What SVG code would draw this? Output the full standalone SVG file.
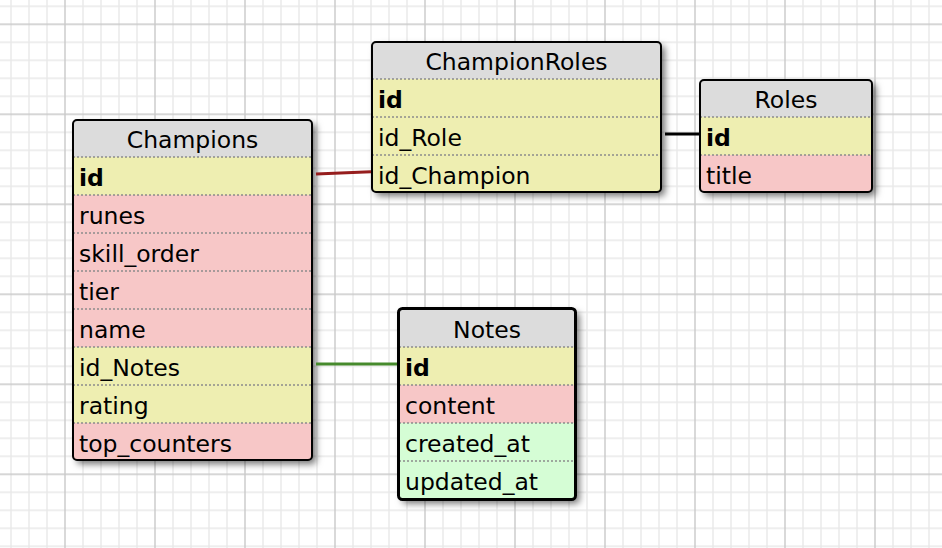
<svg xmlns="http://www.w3.org/2000/svg" width="942" height="548" viewBox="0 0 942 548">
<style>
.hdr{fill:#dcdcdc}
.yel{fill:#eeeeb1}
.pnk{fill:#f7c7c7}
.grn{fill:#d5fdd5}
.sep{stroke:#8c8c8c;stroke-width:1.6;stroke-dasharray:2 2;fill:none}
.box{fill:none;stroke:#000;stroke-width:2}
.boxsel{fill:none;stroke:#000;stroke-width:3}
text{font-family:"DejaVu Sans",Verdana,sans-serif;font-size:23.5px;fill:#000}
.t{text-anchor:middle}
.b{font-weight:bold}
.conn{fill:none;stroke-width:3;stroke-linecap:butt}
</style>
<defs>
<pattern id="grid" patternUnits="userSpaceOnUse" x="56" y="15.3" width="90" height="90">
<path d="M27 0V90M45 0V90M63 0V90M81 0V90M0 27H90M0 45H90M0 63H90M0 81H90" stroke="#e9e9e9" stroke-width="1.4" fill="none"/>
<path d="M9 0V90M0 9H90" stroke="#c9c9c9" stroke-width="1.4" fill="none"/>
</pattern>
<filter id="sh" x="-10%" y="-10%" width="130%" height="130%">
<feDropShadow dx="4" dy="4" stdDeviation="3.5" flood-color="#000" flood-opacity="0.55"/>
</filter>
<clipPath id="cChamp"><rect x="73" y="120" width="239" height="340" rx="4"/></clipPath>
<clipPath id="cCR"><rect x="372" y="42" width="289" height="150" rx="4"/></clipPath>
<clipPath id="cRoles"><rect x="700" y="80" width="172" height="112" rx="4"/></clipPath>
<clipPath id="cNotes"><rect x="398.5" y="308.5" width="177" height="191" rx="4"/></clipPath>
</defs>
<rect width="942" height="548" fill="#fff"/>
<rect width="942" height="548" fill="url(#grid)"/>

<g id="Champions">
<rect x="73" y="120" width="239" height="340" rx="4" class="hdr" filter="url(#sh)"/>
<g clip-path="url(#cChamp)">
<rect x="73" y="157" width="239" height="38" class="yel"/>
<rect x="73" y="195" width="239" height="152" class="pnk"/>
<rect x="73" y="347" width="239" height="76" class="yel"/>
<rect x="73" y="423" width="239" height="38" class="pnk"/>
</g>
<path class="sep" d="M73 157H312M73 195H312M73 233H312M73 271H312M73 309H312M73 347H312M73 385H312M73 423H312"/>
<rect x="73" y="120" width="239" height="340" rx="4" class="box"/>
<text x="192.5" y="148" class="t">Champions</text>
<text x="79" y="186" class="b">id</text>
<text x="79" y="224">runes</text>
<text x="79" y="262">skill_order</text>
<text x="79" y="300">tier</text>
<text x="79" y="338">name</text>
<text x="79" y="376">id_Notes</text>
<text x="79" y="414">rating</text>
<text x="79" y="452">top_counters</text>
</g>

<g id="ChampionRoles">
<rect x="372" y="42" width="289" height="150" rx="4" class="hdr" filter="url(#sh)"/>
<g clip-path="url(#cCR)">
<rect x="372" y="79" width="289" height="114" class="yel"/>
</g>
<path class="sep" d="M372 79H661M372 117H661M372 155H661"/>
<rect x="372" y="42" width="289" height="150" rx="4" class="box"/>
<text x="516.5" y="70" class="t">ChampionRoles</text>
<text x="378" y="108" class="b">id</text>
<text x="378" y="146">id_Role</text>
<text x="378" y="184">id_Champion</text>
</g>

<g id="Roles">
<rect x="700" y="80" width="172" height="112" rx="4" class="hdr" filter="url(#sh)"/>
<g clip-path="url(#cRoles)">
<rect x="700" y="117" width="172" height="38" class="yel"/>
<rect x="700" y="155" width="172" height="38" class="pnk"/>
</g>
<path class="sep" d="M700 117H872M700 155H872"/>
<rect x="700" y="80" width="172" height="112" rx="4" class="box"/>
<text x="786" y="108" class="t">Roles</text>
<text x="706" y="146" class="b">id</text>
<text x="706" y="184">title</text>
</g>

<g id="Notes">
<rect x="398.5" y="308.5" width="177" height="191" rx="4" class="hdr" filter="url(#sh)"/>
<g clip-path="url(#cNotes)">
<rect x="398" y="347" width="178" height="38" class="yel"/>
<rect x="398" y="385" width="178" height="38" class="pnk"/>
<rect x="398" y="423" width="178" height="78" class="grn"/>
</g>
<path class="sep" d="M399 347H575M399 385H575M399 423H575M399 461H575"/>
<rect x="398.5" y="308.5" width="177" height="191" rx="4" class="boxsel"/>
<text x="487" y="338" class="t">Notes</text>
<text x="405" y="376" class="b">id</text>
<text x="405" y="414">content</text>
<text x="405" y="452">created_at</text>
<text x="405" y="490">updated_at</text>
</g>

<g id="connectors">
<path class="conn" stroke="#961e1e" d="M316 174L371 171.7"/>
<path class="conn" stroke="#000" d="M665 134H699"/>
<path class="conn" stroke="#468a2c" d="M316 364H397"/>
</g>
</svg>
